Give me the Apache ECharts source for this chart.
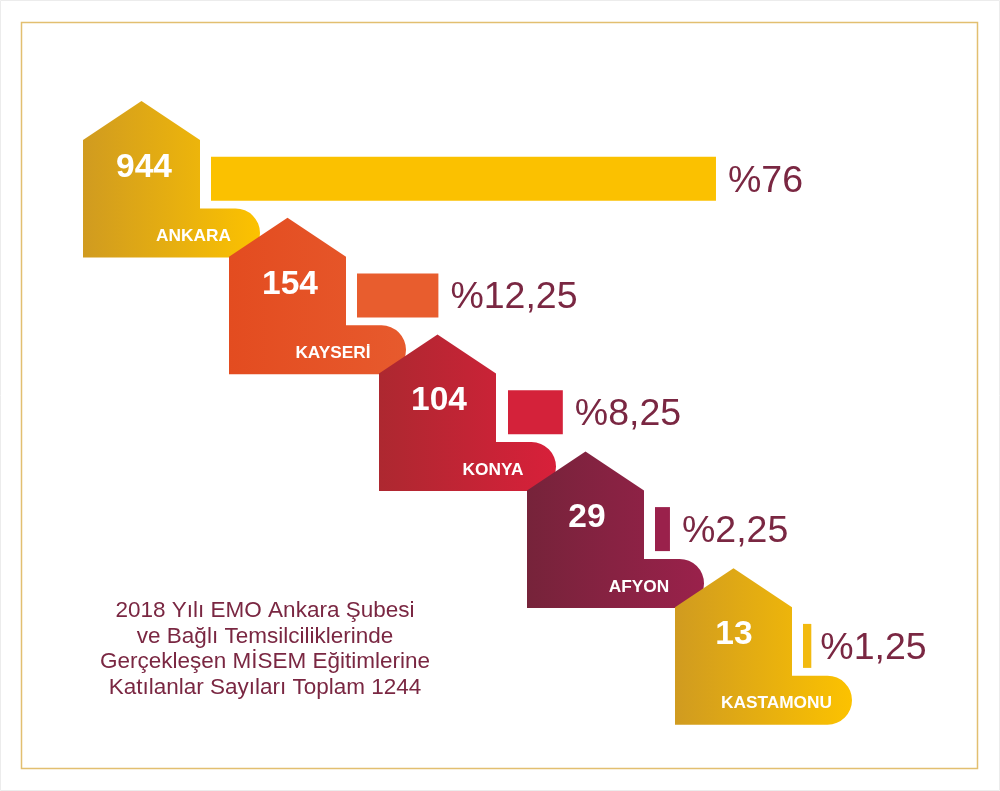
<!DOCTYPE html>
<html><head><meta charset="utf-8">
<style>html,body{margin:0;padding:0;background:#fff}#c{width:1000px;height:791px}</style>
<script src="https://cdn.jsdelivr.net/npm/echarts@6/dist/echarts.min.js"></script>
</head><body><div id="c"></div>
<script>
const cities = ['ANKARA','KAYSERİ','KONYA','AFYON','KASTAMONU'];
const counts = [944,154,104,29,13];
const percents = [76,12.25,8.25,2.25,1.25];
const captionLines = ['2018 Yılı EMO Ankara Şubesi','ve Bağlı Temsilciliklerinde','Gerçekleşen MİSEM Eğitimlerine','Katılanlar Sayıları Toplam 1244'];

const FONT = '"Liberation Sans", Arial, sans-serif';
const houseLeft = [83,229,379,527,675];
const countDx = [61,61,60,60,59];
const nameDx = [110.5,104,114,112,101.5];
const labelGap = [12,12,12,12,9];
const houseGrad = [['#d09b20','#fcc200'],['#e34c20','#e75a2d'],['#ad2830','#d8203a'],['#76233a','#9a214b'],['#d09b20','#fcc200']];
const barColor = ['#fbc100','#e85d2e','#d4223a','#9a214b','#f2ba10'];
const INK = '#7a2742';

const chart = echarts.init(document.getElementById('c'), null, {renderer:'canvas'});

function renderRow(params, api){
  const i = params.dataIndex;
  const v = api.value(0);
  const origin = api.coord([0,i]);
  const end = api.coord([v,i]);
  const cy = origin[1];
  const L = houseLeft[i], T = cy-77.7;
  const R = 24.5;
  const d = 'M'+L+' '+(T+39)+
    'L'+(L+58.5)+' '+T+
    'L'+(L+117)+' '+(T+39)+
    'L'+(L+117)+' '+(T+107.5)+
    'L'+(L+177-R)+' '+(T+107.5)+
    'A'+R+' '+R+' 0 0 1 '+(L+177-R)+' '+(T+156.5)+
    'L'+L+' '+(T+156.5)+'Z';
  const barL = L+128+(i===2?1:0);
  const barW = end[0]-origin[0];
  const barEnd = barL+barW;
  return {type:'group',children:[
    {type:'path',shape:{pathData:d},style:{fill:new echarts.graphic.LinearGradient(0,0,1,0,[
      {offset:0,color:houseGrad[i][0]},{offset:1,color:houseGrad[i][1]}])}},
    {type:'rect',shape:{x:barL,y:cy-22,width:barW,height:44},style:{fill:barColor[i]}},
    {type:'text',style:{text:String(counts[i]),x:L+countDx[i],y:T+66.5,align:'center',verticalAlign:'middle',
      fill:'#fff',font:'bold 33.5px '+FONT}},
    {type:'text',style:{text:cities[i],x:L+nameDx[i],y:T+135.5,align:'center',verticalAlign:'middle',
      fill:'#fff',font:'bold 17.3px '+FONT}},
    {type:'text',style:{text:'%'+String(v).replace('.',','),x:barEnd+labelGap[i],y:cy+2.5,align:'left',verticalAlign:'middle',
      fill:INK,font:'37.5px '+FONT}}
  ]};
}

chart.setOption({
  animation:false,
  backgroundColor:'#fff',
  title:{
    text:captionLines.join('\n'),
    left:265,top:598.5,textAlign:'center',
    textStyle:{color:INK,fontFamily:FONT,fontWeight:'normal',fontSize:22.5,lineHeight:25.5},
    padding:0
  },
  grid:{left:0,top:120.3,width:1000,height:584},
  xAxis:{type:'value',min:0,max:150.5,show:false},
  yAxis:{type:'category',data:cities,inverse:true,show:false},
  graphic:[
    {type:'rect',silent:true,shape:{x:0.5,y:0.5,width:999,height:790},style:{fill:'none',stroke:'#ececec',lineWidth:1}},
    {type:'rect',silent:true,shape:{x:21.5,y:22.5,width:956,height:746},style:{fill:'none',stroke:'#e2bf70',lineWidth:1.5}}
  ],
  series:[{
    type:'custom',
    silent:true,
    clip:false,
    renderItem:renderRow,
    encode:{x:0,y:1},
    data:percents.map((p,i)=>[p,i])
  }]
});
</script></body></html>
